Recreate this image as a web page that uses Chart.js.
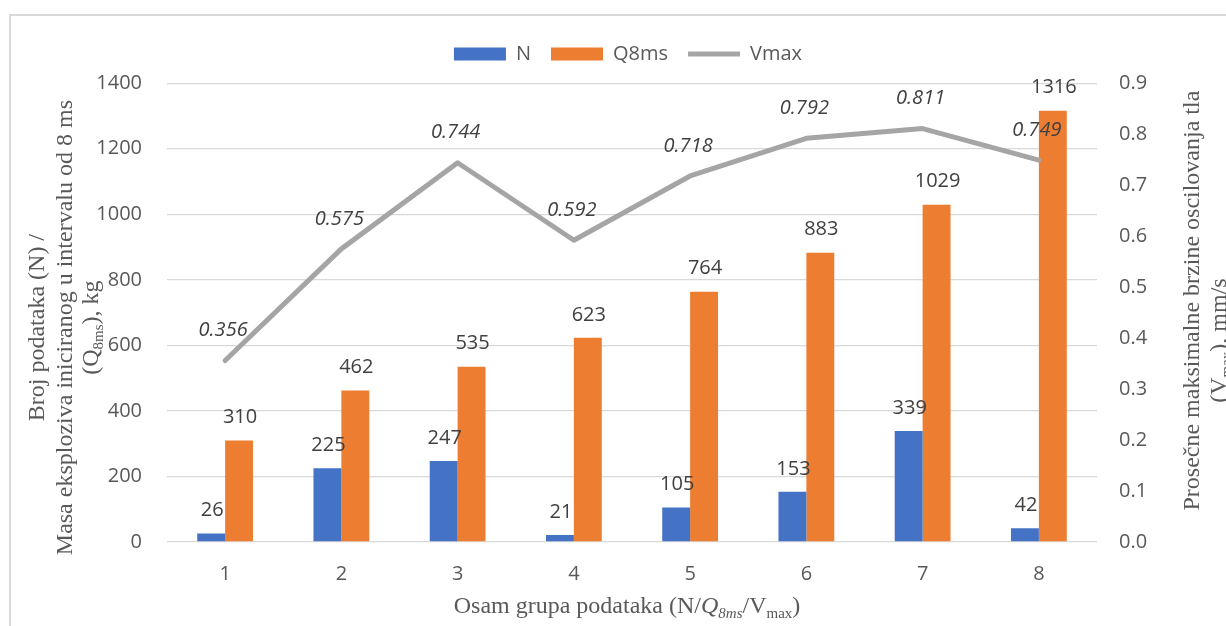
<!DOCTYPE html>
<html>
<head>
<meta charset="utf-8">
<script src="https://cdn.jsdelivr.net/npm/chart.js@4"></script>
<style>
  html, body { margin: 0; padding: 0; background: #fff; overflow: hidden; }
  #wrap { position: relative; width: 1226px; height: 626px; }
  #frame { position: absolute; left: 9px; top: 14px; width: 1400px; height: 800px;
           border: 2px solid #d9d9d9; box-sizing: border-box; }
  #c { position: absolute; left: 0; top: 0; }
</style>
</head>
<body>
<div id="wrap">
  <div id="frame"></div>
  <canvas id="c" width="1226" height="626"></canvas>
</div>
<script>
// Eight data groups
const groups = ['1', '2', '3', '4', '5', '6', '7', '8'];
// Number of records per group
const nValues = [26, 225, 247, 21, 105, 153, 339, 42];
// Explosive mass per 8 ms delay, kg
const qValues = [310, 462, 535, 623, 764, 883, 1029, 1316];
// Average peak particle velocity, mm/s
const vmaxValues = [0.356, 0.575, 0.744, 0.592, 0.718, 0.792, 0.811, 0.749];
// Axis ranges
const leftTicks = [0, 200, 400, 600, 800, 1000, 1200, 1400];
const rightTicks = [0.0, 0.1, 0.2, 0.3, 0.4, 0.5, 0.6, 0.7, 0.8, 0.9];

const SANS = "'Open Sans', 'Liberation Sans', sans-serif";
const SERIF = "'Liberation Serif', 'DejaVu Serif', serif";
const TICK_COLOR = '#595959';
const LABEL_COLOR = '#404040';

// Draws a line of mixed text runs (normal / italic / subscript) centred on (cx, cy)
function drawRuns(ctx, runs, cx, cy, angle, size) {
  const subSize = Math.round(size * 0.62);
  const fontOf = r => (r.italic ? 'italic ' : '') + (r.sub ? subSize : size) + 'px ' + SERIF;
  let total = 0;
  const widths = runs.map(r => { ctx.font = fontOf(r); const w = ctx.measureText(r.t).width; total += w; return w; });
  ctx.save();
  ctx.translate(cx, cy);
  ctx.rotate(angle);
  ctx.fillStyle = TICK_COLOR;
  ctx.textBaseline = 'alphabetic';
  ctx.textAlign = 'left';
  let x = -total / 2;
  const base = size * 0.33;
  runs.forEach((r, i) => {
    ctx.font = fontOf(r);
    ctx.fillText(r.t, x, base + (r.sub ? size * 0.22 : 0));
    x += widths[i];
  });
  ctx.restore();
}

// Axis titles with subscripts
const axisTitles = {
  id: 'axisTitles',
  afterDraw(chart) {
    const ctx = chart.ctx;
    const a = chart.chartArea;
    const midY = (a.top + a.bottom) / 2;
    const midX = (a.left + a.right) / 2;
    const up = -Math.PI / 2;
    drawRuns(ctx, [{ t: 'Broj podataka (N) /' }], 36, midY + 15, up, 24);
    drawRuns(ctx, [{ t: 'Masa eksploziva iniciranog u intervalu od 8 ms' }], 64, midY + 15, up, 24);
    drawRuns(ctx, [{ t: '(Q' }, { t: '8ms', sub: true }, { t: '), kg' }], 90, midY + 15, up, 24);
    drawRuns(ctx, [{ t: 'Prosečne maksimalne brzine oscilovanja tla' }], 1191, midY - 12, up, 24);
    drawRuns(ctx, [{ t: '(V' }, { t: 'max', sub: true }, { t: '), mm/s' }], 1218, midY + 28, up, 24);
    drawRuns(ctx, [
      { t: 'Osam grupa podataka (N/' },
      { t: 'Q', italic: true },
      { t: '8ms', italic: true, sub: true },
      { t: '/V' },
      { t: 'max', sub: true },
      { t: ')' }
    ], midX - 5, 605, 0, 24);
  }
};

// Value labels above bars and line points
const valueLabels = {
  id: 'valueLabels',
  afterDatasetsDraw(chart) {
    const ctx = chart.ctx;
    ctx.save();
    ctx.textAlign = 'center';
    ctx.textBaseline = 'middle';
    ctx.fillStyle = LABEL_COLOR;
    chart.data.datasets.forEach((ds, di) => {
      const meta = chart.getDatasetMeta(di);
      meta.data.forEach((el, i) => {
        const v = ds.data[i];
        if (ds.type === 'line') {
          ctx.font = 'italic 20px ' + SANS;
          ctx.fillText(v.toFixed(3), el.x - 2, el.y - 30);
        } else {
          ctx.font = '20px ' + SANS;
          ctx.fillText(String(v), el.x + 1, el.y - 23);
        }
      });
    });
    ctx.restore();
  }
};

new Chart(document.getElementById('c'), {
  data: {
    labels: groups,
    datasets: [
      {
        type: 'bar', label: 'N', data: nValues, yAxisID: 'y',
        backgroundColor: '#4472c4', borderWidth: 0, order: 1, pointStyle: 'rect',
        categoryPercentage: 0.48, barPercentage: 1.0
      },
      {
        type: 'bar', label: 'Q8ms', data: qValues, yAxisID: 'y',
        backgroundColor: '#ed7d31', borderWidth: 0, order: 1, pointStyle: 'rect',
        categoryPercentage: 0.48, barPercentage: 1.0
      },
      {
        type: 'line', label: 'Vmax', data: vmaxValues, yAxisID: 'y2',
        borderColor: '#a5a5a5', backgroundColor: '#a5a5a5', borderWidth: 5,
        borderCapStyle: 'round', borderJoinStyle: 'round',
        pointRadius: 0, pointHoverRadius: 0, pointStyle: 'line', tension: 0, order: 0
      }
    ]
  },
  options: {
    responsive: false,
    animation: false,
    events: [],
    layout: { padding: { top: 24, left: 30, right: 0, bottom: 0 } },
    plugins: {
      tooltip: { enabled: false },
      legend: {
        position: 'top',
        weight: 1000,
        labels: {
          usePointStyle: true,
          pointStyleWidth: 52,
          boxHeight: 13,
          padding: 20,
          color: TICK_COLOR,
          font: { family: SANS, size: 20 },
          sort: (a, b) => a.datasetIndex - b.datasetIndex
        }
      },
      // empty spacer between legend and plot area
      title: {
        display: true,
        text: '',
        position: 'top',
        weight: 500,
        font: { size: 1 },
        padding: { top: 0, bottom: 8 }
      }
    },
    scales: {
      x: {
        type: 'category',
        grid: { display: false, drawTicks: false },
        border: { display: false },
        ticks: { color: TICK_COLOR, font: { family: SANS, size: 20 }, padding: 20 },
        afterFit: s => { s.height = 84; }
      },
      y: {
        position: 'left',
        min: 0, max: 1400,
        afterBuildTicks: s => { s.ticks = leftTicks.map(v => ({ value: v })); },
        grid: { color: '#d9d9d9', lineWidth: 1.3, drawTicks: false },
        border: { display: false },
        ticks: { color: TICK_COLOR, font: { family: SANS, size: 20 }, padding: 25,
                 callback: v => String(v) },
        afterFit: s => { s.width = 137; }
      },
      y2: {
        position: 'right',
        min: 0, max: 0.9,
        afterBuildTicks: s => { s.ticks = rightTicks.map(v => ({ value: v })); },
        grid: { display: false, drawTicks: false },
        border: { display: false },
        ticks: { color: TICK_COLOR, font: { family: SANS, size: 20 }, padding: 22,
                 callback: v => Number(v).toFixed(1) },
        afterFit: s => { s.width = 129; }
      }
    }
  },
  plugins: [valueLabels, axisTitles]
});
</script>
</body>
</html>
